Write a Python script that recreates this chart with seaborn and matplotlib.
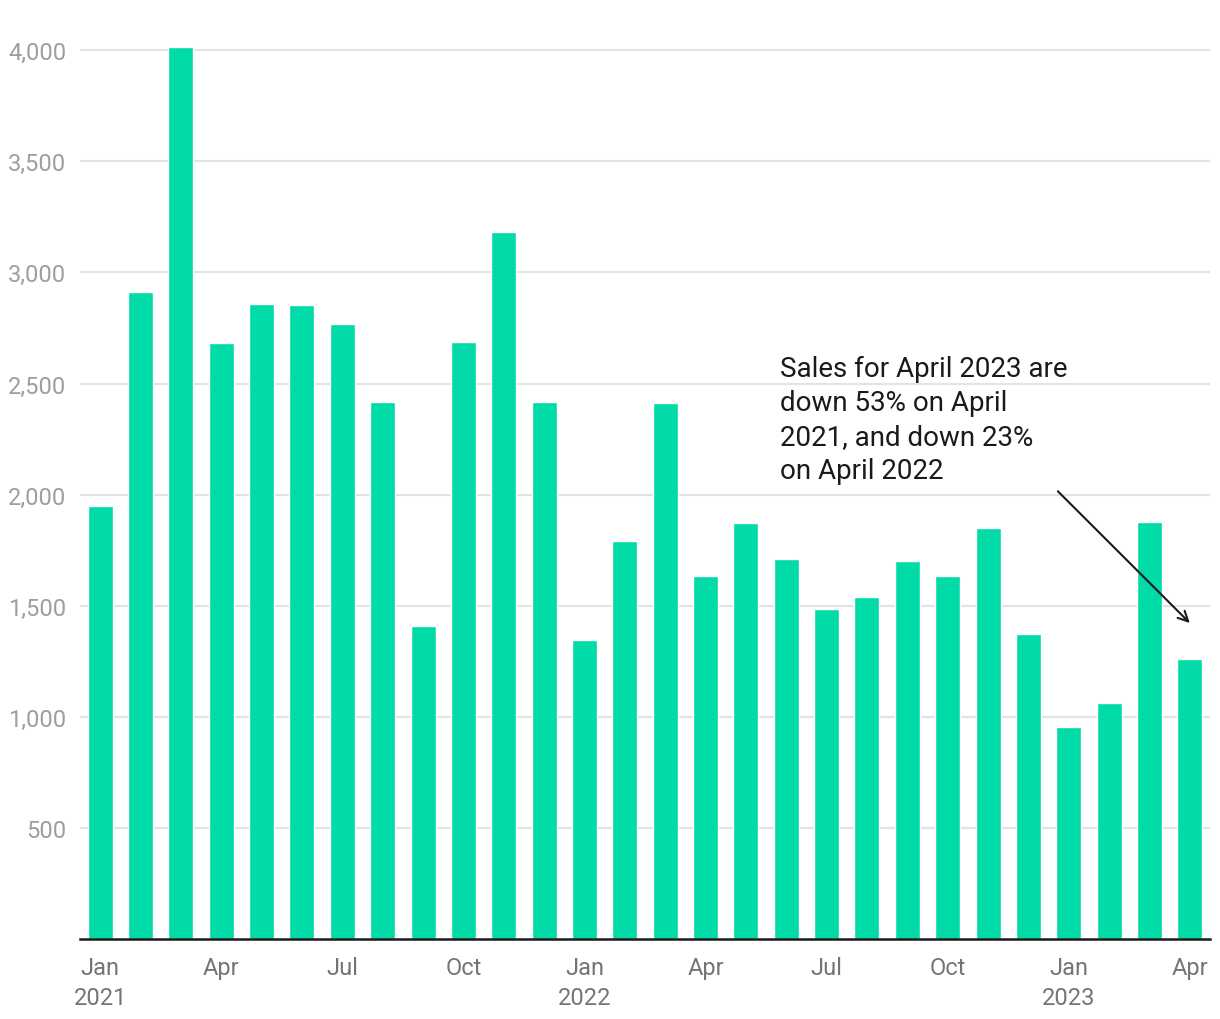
import matplotlib
matplotlib.use("Agg")
import matplotlib.pyplot as plt
import seaborn as sns
import pandas as pd

months = ["Jan 2021", "Feb 2021", "Mar 2021", "Apr 2021", "May 2021", "Jun 2021",
          "Jul 2021", "Aug 2021", "Sep 2021", "Oct 2021", "Nov 2021", "Dec 2021",
          "Jan 2022", "Feb 2022", "Mar 2022", "Apr 2022", "May 2022", "Jun 2022",
          "Jul 2022", "Aug 2022", "Sep 2022", "Oct 2022", "Nov 2022", "Dec 2022",
          "Jan 2023", "Feb 2023", "Mar 2023", "Apr 2023"]
sales = [1950, 2910, 4013, 2681, 2857, 2852, 2767, 2416, 1408, 2686, 3181, 2416,
         1345, 1790, 2411, 1633, 1871, 1709, 1485, 1539, 1700, 1633, 1849, 1372,
         954, 1062, 1876, 1260]
tick_labels = ["Jan\n2021", "Apr", "Jul", "Oct", "Jan\n2022", "Apr", "Jul", "Oct",
               "Jan\n2023", "Apr"]
ytick_values = [500, 1000, 1500, 2000, 2500, 3000, 3500, 4000]
note = "Sales for April 2023 are\ndown 53% on April\n2021, and down 23%\non April 2022"

sns.set_theme(style="white")
plt.rcParams['font.family'] = ['Roboto', 'DejaVu Sans']

df = pd.DataFrame({"month": months, "sales": sales})

fig = plt.figure(figsize=(12.2, 10.2), dpi=100)
ax = fig.add_axes([80/1220, 80/1020, 1130/1220, 911/1020])

sns.barplot(data=df, x="month", y="sales", color="#01DBA7", width=0.62,
            saturation=1, ax=ax, zorder=3)

ax.set_xlim(-0.5, len(months) - 0.5)
ax.set_ylim(0, 4100)
ax.set_yticks(ytick_values)
ax.set_yticklabels([f"{v:,}" for v in ytick_values])
ax.grid(axis="y", color="#e3e3e3", linewidth=1.5, zorder=0)
ax.set_axisbelow(True)

tick_pos = list(range(0, len(months), 3))
ax.set_xticks(tick_pos)
ax.set_xticklabels(tick_labels, linespacing=1.4)
ax.tick_params(axis="x", length=0, pad=12, labelsize=17, labelcolor="#757575")
ax.tick_params(axis="y", length=0, pad=10, labelsize=17, labelcolor="#9e9e9e")
ax.set_xlabel("")
ax.set_ylabel("")

for s in ["top", "right", "left"]:
    ax.spines[s].set_visible(False)
ax.spines["bottom"].set_color("#1a1a1a")
ax.spines["bottom"].set_linewidth(1.8)
ax.spines["bottom"].set_zorder(5)

ax.text(16.84, 2630, note, fontsize=20, color="#1a1a1a", va="top", ha="left",
        linespacing=1.34)
ax.annotate("", xy=(27.0, 1422), xytext=(23.73, 2015),
            arrowprops=dict(arrowstyle="->", color="#1a1a1a", lw=1.5,
                            mutation_scale=18, shrinkA=0, shrinkB=0))

fig.savefig("out.png", dpi=100)
